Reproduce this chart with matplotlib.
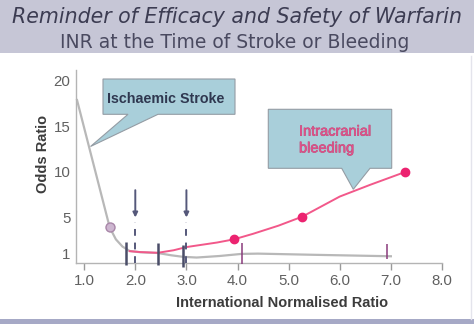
import matplotlib
matplotlib.use('Agg')
import matplotlib.pyplot as plt
from matplotlib.patches import Polygon, Rectangle
import matplotlib.patheffects as pe

# ---------------- data ----------------
title_main = "Reminder of Efficacy and Safety of Warfarin"
title_sub = "INR at the Time of Stroke or Bleeding"
x_label = "International Normalised Ratio"
y_label = "Odds Ratio"

x_ticks = [1.0, 2.0, 3.0, 4.0, 5.0, 6.0, 7.0, 8.0]
x_tick_labels = ["1.0", "2.0", "3.0", "4.0", "5.0", "6.0", "7.0", "8.0"]
y_ticks = [1, 5, 10, 15, 20]
y_tick_labels = ["1", "5", "10", "15", "20"]

# Ischaemic stroke curve
stroke_inr = [0.86, 1.50, 1.62, 1.75, 1.89, 2.1, 2.44, 2.7, 2.93, 3.2, 3.65, 4.08, 4.4, 5.5, 7.0]
stroke_or = [17.9, 3.9, 2.6, 1.8, 1.32, 1.18, 1.1, 0.85, 0.68, 0.6, 0.77, 1.0, 1.03, 0.9, 0.74]
stroke_marker_inr = [1.50]
stroke_marker_or = [3.9]

# Intracranial bleeding curve
bleed_inr = [1.89, 2.1, 2.44, 2.75, 3.0, 3.3, 3.6, 3.93, 4.3, 4.8, 5.27, 6.0, 6.6, 7.28]
bleed_or = [1.3, 1.2, 1.12, 1.4, 1.75, 2.0, 2.25, 2.6, 3.2, 4.1, 5.1, 7.3, 8.6, 10.0]
bleed_marker_inr = [3.93, 5.27, 7.28]
bleed_marker_or = [2.6, 5.1, 10.0]

# vertical interval marks
stroke_ci_inr = [1.81, 2.44, 2.93]
stroke_ci_low = [-0.25, -0.18, -0.44]
stroke_ci_high = [2.31, 2.24, 1.95]
bleed_ci_inr = [4.08, 6.92]
bleed_ci_low = [-0.07, 0.48]
bleed_ci_high = [2.2, 2.06]

# target range arrows
target_inr = [2.0, 3.0]
arrow_top = 8.0
arrow_tip = 5.0
dash_top = 4.5

stroke_box_text = "Ischaemic Stroke"
bleed_box_text = "Intracranial\nbleeding"

# ---------------- figure ----------------
W, H = 474, 324
fig = plt.figure(figsize=(W / 100, H / 100), dpi=100)
fig.patch.set_facecolor('white')


def px(x, y):
    return (x / W, 1 - y / H)


# header band
fig.patches.append(Rectangle(px(0, 53), 1, 53 / H, transform=fig.transFigure,
                             facecolor='#c6c6d6', edgecolor='none', zorder=0))
fig.text(*px(237, 17), title_main, ha='center', va='center', fontsize=14.8,
         style='italic', color='#3c3c52', family='DejaVu Sans')
fig.text(*px(235, 43), title_sub, ha='center', va='center', fontsize=13.5,
         color='#4a4a60', family='DejaVu Sans')

# bottom strip
fig.patches.append(Rectangle(px(0, 324), 1, 5 / H, transform=fig.transFigure,
                             facecolor='#a6a9c6', edgecolor='none', zorder=0))
fig.lines.append(plt.Line2D([471 / W, 471 / W], [1 - 319 / H, 1 - 56 / H],
                            transform=fig.transFigure, color='#e4e4ec', lw=1))

# axes
ax = fig.add_axes([76 / W, 1 - 263 / H, (442 - 76) / W, (263 - 70) / H])
ax.set_facecolor('none')
ax.set_xlim(0.84, 8.0)
ax.set_ylim(0, 21.2)
for s in ['top', 'right']:
    ax.spines[s].set_visible(False)
for s in ['left', 'bottom']:
    ax.spines[s].set_color('#b4b4b4')
    ax.spines[s].set_linewidth(1.0)

ax.set_xticks(x_ticks)
ax.set_xticklabels(x_tick_labels, family='Liberation Sans', fontsize=10.8, color='#606060')
ax.set_yticks(y_ticks)
ax.set_yticklabels(y_tick_labels, family='Liberation Sans', fontsize=10.8, color='#606060')
ax.tick_params(axis='x', direction='out', length=5, width=1, color='#9a9a9a', pad=3)
ax.tick_params(axis='y', length=0, pad=4)

# curves
ax.plot(stroke_inr, stroke_or, color='#b8b8b8', lw=1.6, zorder=2, clip_on=False)
ax.plot(stroke_marker_inr, stroke_marker_or, 'o', ms=6.5, mfc='#cdb6d0',
        mec='#a886a8', mew=1, zorder=4, clip_on=False)
ax.plot(bleed_inr, bleed_or, color='#f2588a', lw=1.4, zorder=3, clip_on=False)
ax.plot(bleed_marker_inr, bleed_marker_or, 'o', ms=6, color='#ec2370',
        mec='#ec2370', zorder=4, clip_on=False)

ax.vlines(stroke_ci_inr, stroke_ci_low, stroke_ci_high, color='#4a4d68',
          lw=1.8, zorder=5, clip_on=False)
ax.vlines(bleed_ci_inr, bleed_ci_low, bleed_ci_high, color='#8a3a7c',
          lw=1.1, zorder=5, clip_on=False)

for xv in target_inr:
    ax.annotate('', xy=(xv, arrow_tip), xytext=(xv, arrow_top),
                arrowprops=dict(arrowstyle='-|>', color='#55587a', lw=1.4,
                                mutation_scale=7, shrinkA=0, shrinkB=0), zorder=5)
    ax.plot([xv, xv], [0, dash_top], color='#55587a', lw=1.4,
            dashes=(3.5, 3.5), zorder=5)

# axis labels
fig.text(*px(43, 154), y_label, rotation=90, ha='center', va='center',
         fontsize=10.5, fontweight='bold', color='#3c3c3c', family='Liberation Sans')
fig.text(*px(282, 303), x_label, ha='center', va='center',
         fontsize=10.5, fontweight='bold', color='#3c3c3c', family='Liberation Sans')

# callout boxes
box_fc = '#a9cfda'
box_ec = '#949ca4'
stroke_poly = [(103, 79), (235, 79), (235, 114.3), (158, 114.3), (90.5, 146.5),
               (128, 114.3), (103, 114.3)]
fig.patches.append(Polygon([px(*p) for p in stroke_poly], closed=True,
                           transform=fig.transFigure, facecolor=box_fc,
                           edgecolor=box_ec, lw=0.8, zorder=6))
fig.text(*px(166, 99), stroke_box_text, ha='center', va='center', fontsize=10.3,
         fontweight='bold', color='#2f3850', family='Liberation Sans', zorder=7)

bleed_poly = [(268.3, 109.3), (391.7, 109.3), (391.7, 168.3), (370, 168.3),
              (353.3, 189.3), (341.7, 168.3), (268.3, 168.3)]
fig.patches.append(Polygon([px(*p) for p in bleed_poly], closed=True,
                           transform=fig.transFigure, facecolor=box_fc,
                           edgecolor=box_ec, lw=0.8, zorder=6))
fig.text(*px(299, 140), bleed_box_text, ha='left', va='center', fontsize=10.5,
         color='#e0508a', family='Liberation Sans', linespacing=1.25, zorder=7,
         path_effects=[pe.withStroke(linewidth=0.5, foreground='#b85078')])

fig.savefig('out.png', dpi=100)
